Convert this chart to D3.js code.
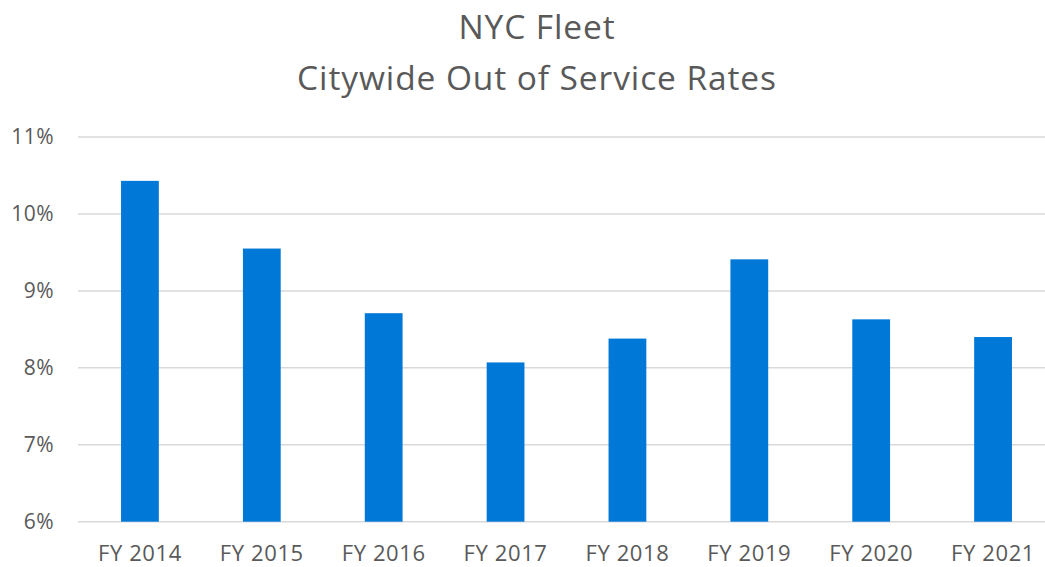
<!DOCTYPE html>
<html>
<head>
<meta charset="utf-8">
<script src="https://cdn.jsdelivr.net/npm/d3@7"></script>
<style>
  body { margin: 0; background: #fff; }
  svg { display: block; }
</style>
</head>
<body>
<div id="chart"></div>
<script>
const years = ["FY 2014", "FY 2015", "FY 2016", "FY 2017", "FY 2018", "FY 2019", "FY 2020", "FY 2021"];
const rates = [10.43, 9.55, 8.71, 8.07, 8.38, 9.41, 8.63, 8.40];
const yTicks = [6, 7, 8, 9, 10, 11];
const titleLines = ["NYC Fleet", "Citywide Out of Service Rates"];

const width = 1045;
const height = 567;
const font = "'Open Sans', sans-serif";
const gray = "#595959";

const svg = d3.select("#chart")
  .append("svg")
  .attr("width", width)
  .attr("height", height);

const x = d3.scaleBand()
  .domain(years)
  .range([79, 1054])
  .paddingInner(0.69)
  .paddingOuter(0.345);

const y = d3.scaleLinear()
  .domain([6, 11])
  .range([521.7, 137]);

// grid lines
svg.append("g")
  .selectAll("line")
  .data(yTicks)
  .enter()
  .append("line")
  .attr("x1", 78)
  .attr("x2", width)
  .attr("y1", d => y(d))
  .attr("y2", d => y(d))
  .attr("stroke", "#d9d9d9")
  .attr("stroke-width", 1.5);

// y labels
svg.append("g")
  .selectAll("text")
  .data(yTicks)
  .enter()
  .append("text")
  .attr("x", 54)
  .attr("y", d => y(d) + 7)
  .attr("text-anchor", "end")
  .attr("font-family", font)
  .attr("font-size", 21)
  .attr("letter-spacing", 0.5)
  .attr("fill", gray)
  .text(d => d + "%");

// bars
svg.append("g")
  .selectAll("rect")
  .data(years)
  .enter()
  .append("rect")
  .attr("x", d => x(d))
  .attr("width", x.bandwidth())
  .attr("y", (d, i) => y(rates[i]))
  .attr("height", (d, i) => y(6) - y(rates[i]))
  .attr("fill", "#0078d7");

// x labels
svg.append("g")
  .selectAll("text")
  .data(years)
  .enter()
  .append("text")
  .attr("x", d => x(d) + x.bandwidth() / 2)
  .attr("y", 561)
  .attr("text-anchor", "middle")
  .attr("font-family", font)
  .attr("font-size", 22)
  .attr("letter-spacing", 0.6)
  .attr("fill", gray)
  .text(d => d);

// title
svg.append("g")
  .selectAll("text")
  .data(titleLines)
  .enter()
  .append("text")
  .attr("x", 537)
  .attr("y", (d, i) => 39 + i * 51)
  .attr("text-anchor", "middle")
  .attr("font-family", font)
  .attr("font-size", 33.5)
  .attr("letter-spacing", 0.9)
  .attr("fill", gray)
  .text(d => d);
</script>
</body>
</html>
